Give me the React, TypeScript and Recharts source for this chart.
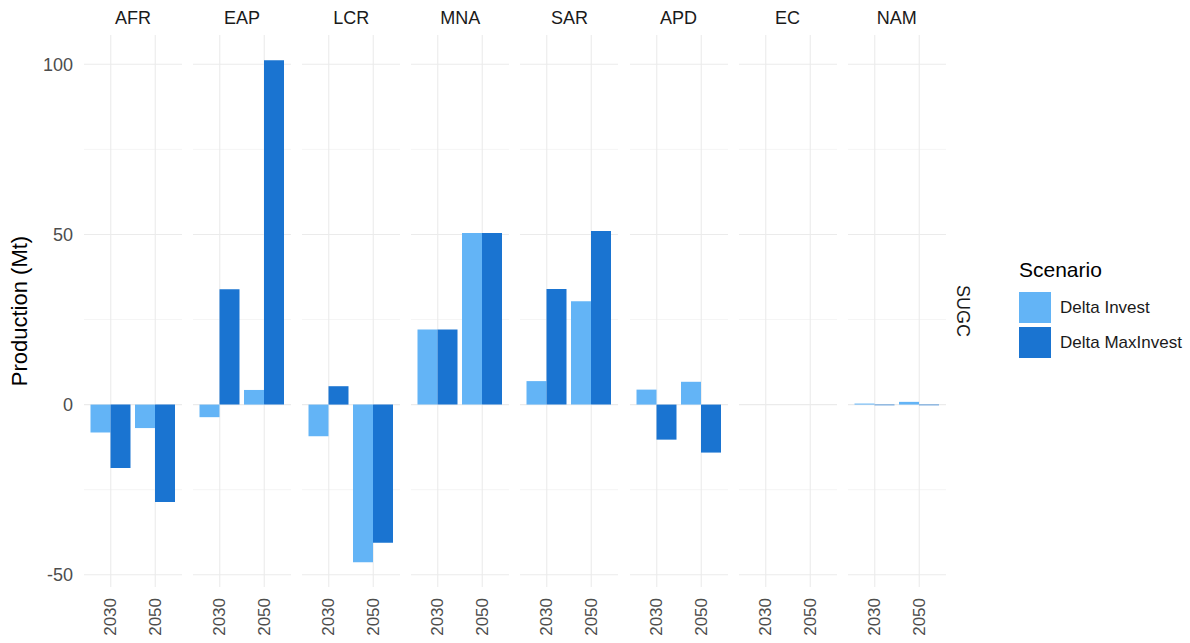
import { BarChart, Bar, XAxis, YAxis, CartesianGrid } from 'recharts';

// regions shown as facets, left to right
const regions = ['AFR', 'EAP', 'LCR', 'MNA', 'SAR', 'APD', 'EC', 'NAM'];
const years = ['2030', '2050'];

// values per region: [2030, 2050]
const deltaInvest = [
  [-8.2, -6.9],
  [-3.7, 4.3],
  [-9.3, -46.3],
  [22.1, 50.4],
  [6.9, 30.4],
  [4.4, 6.7],
  [0, 0],
  [0.3, 0.8],
];
const deltaMaxInvest = [
  [-18.6, -28.6],
  [33.9, 101.2],
  [5.4, -40.6],
  [22.1, 50.4],
  [34.0, 51.0],
  [-10.3, -14.1],
  [0, 0],
  [-0.2, -0.2],
];

const majorTicks = [-50, 0, 50, 100];
const minorTicks = [-25, 25, 75];
const yDomain: [number, number] = [-53.6, 108.6];

const LIGHT = '#63b4f6';
const DARK = '#1a74d1';
const FONT = '"Liberation Sans", Arial, sans-serif';

const PANEL_W = 98;
const PANEL_STEP = 109.1;
const PANEL_X0 = 84;
const PLOT_TOP = 35;
const PLOT_H = 552;
const AXIS_H = 50;
const Y_AXIS_W = 84;
const X_PAD = 4.5;

const XTick = (props: any) => {
  const { x, y, payload } = props;
  return (
    <text
      x={x}
      y={y}
      transform={`rotate(-90 ${x} ${y})`}
      textAnchor="end"
      dominantBaseline="central"
      fontSize={17}
      fill="#4d4d4d"
      fontFamily={FONT}
    >
      {payload.value}
    </text>
  );
};

const YTick = (props: any) => {
  const { x, y, payload } = props;
  return (
    <text x={x} y={y} dy="0.35em" textAnchor="end" fontSize={18} fill="#4d4d4d" fontFamily={FONT}>
      {payload.value}
    </text>
  );
};

// vertical grid lines at the band centres of the x axis
const bandCentres = ({ offset }: any) => {
  if (!offset) return [];
  const band = (offset.width - 2 * X_PAD) / years.length;
  return years.map((_, i) => offset.left + X_PAD + band * (i + 0.5));
};

function Panel({ index }: { index: number }) {
  const data = years.map((year, i) => ({
    year,
    invest: deltaInvest[index][i],
    maxInvest: deltaMaxInvest[index][i],
  }));
  const withAxis = index === 0;
  const left = withAxis ? 0 : PANEL_X0 + index * PANEL_STEP;
  const width = withAxis ? PANEL_X0 + PANEL_W : PANEL_W;

  return (
    <div style={{ position: 'absolute', left, top: PLOT_TOP }}>
      <BarChart
        width={width}
        height={PLOT_H + AXIS_H}
        data={data}
        margin={{ top: 0, right: 0, bottom: 0, left: 0 }}
        barGap={0}
        barSize={20}
      >
        <CartesianGrid stroke="#f2f2f2" strokeWidth={0.8} horizontalValues={minorTicks} vertical={false} />
        <CartesianGrid
          stroke="#ebebeb"
          strokeWidth={1.1}
          horizontalValues={majorTicks}
          verticalCoordinatesGenerator={bandCentres}
        />
        <XAxis
          dataKey="year"
          height={AXIS_H}
          padding={{ left: X_PAD, right: X_PAD }}
          axisLine={false}
          tickLine={false}
          tickSize={0}
          tickMargin={11}
          tick={<XTick />}
          interval={0}
        />
        <YAxis
          hide={!withAxis}
          width={Y_AXIS_W}
          domain={yDomain}
          ticks={majorTicks}
          allowDataOverflow
          axisLine={false}
          tickLine={false}
          tickSize={0}
          tickMargin={11}
          tick={<YTick />}
        />
        <Bar dataKey="invest" name="Delta Invest" fill={LIGHT} isAnimationActive={false} />
        <Bar dataKey="maxInvest" name="Delta MaxInvest" fill={DARK} isAnimationActive={false} />
      </BarChart>
      <div
        style={{
          position: 'absolute',
          top: -27,
          left: withAxis ? Y_AXIS_W : 0,
          width: PANEL_W,
          textAlign: 'center',
          fontSize: 18,
          color: '#1a1a1a',
          fontFamily: FONT,
        }}
      >
        {regions[index]}
      </div>
    </div>
  );
}

export default function App() {
  return (
    <div
      style={{
        position: 'absolute',
        left: 0,
        top: 0,
        width: 1190,
        height: 643,
        background: '#fff',
        fontFamily: FONT,
        overflow: 'hidden',
      }}
    >
      {regions.map((r, i) => (
        <Panel key={r} index={i} />
      ))}

      {/* y axis title */}
      <div
        style={{
          position: 'absolute',
          left: 20,
          top: PLOT_TOP + PLOT_H / 2,
          transform: 'translate(-50%, -50%) rotate(-90deg)',
          whiteSpace: 'nowrap',
          fontSize: 22,
          color: '#000',
        }}
      >
        Production (Mt)
      </div>

      {/* facet row strip */}
      <div
        style={{
          position: 'absolute',
          left: 962,
          top: PLOT_TOP + PLOT_H / 2,
          transform: 'translate(-50%, -50%) rotate(90deg)',
          whiteSpace: 'nowrap',
          fontSize: 18,
          color: '#1a1a1a',
        }}
      >
        SUGC
      </div>

      {/* legend */}
      <div style={{ position: 'absolute', left: 1019, top: 257 }}>
        <div style={{ fontSize: 21, color: '#000', height: 33, lineHeight: '26px' }}>Scenario</div>
        {[
          { label: 'Delta Invest', color: LIGHT },
          { label: 'Delta MaxInvest', color: DARK },
        ].map((item) => (
          <div key={item.label} style={{ display: 'flex', alignItems: 'center', height: 35 }}>
            <div style={{ width: 32, height: 31, background: item.color, marginRight: 9 }} />
            <span style={{ fontSize: 17, color: '#1a1a1a' }}>{item.label}</span>
          </div>
        ))}
      </div>
    </div>
  );
}
